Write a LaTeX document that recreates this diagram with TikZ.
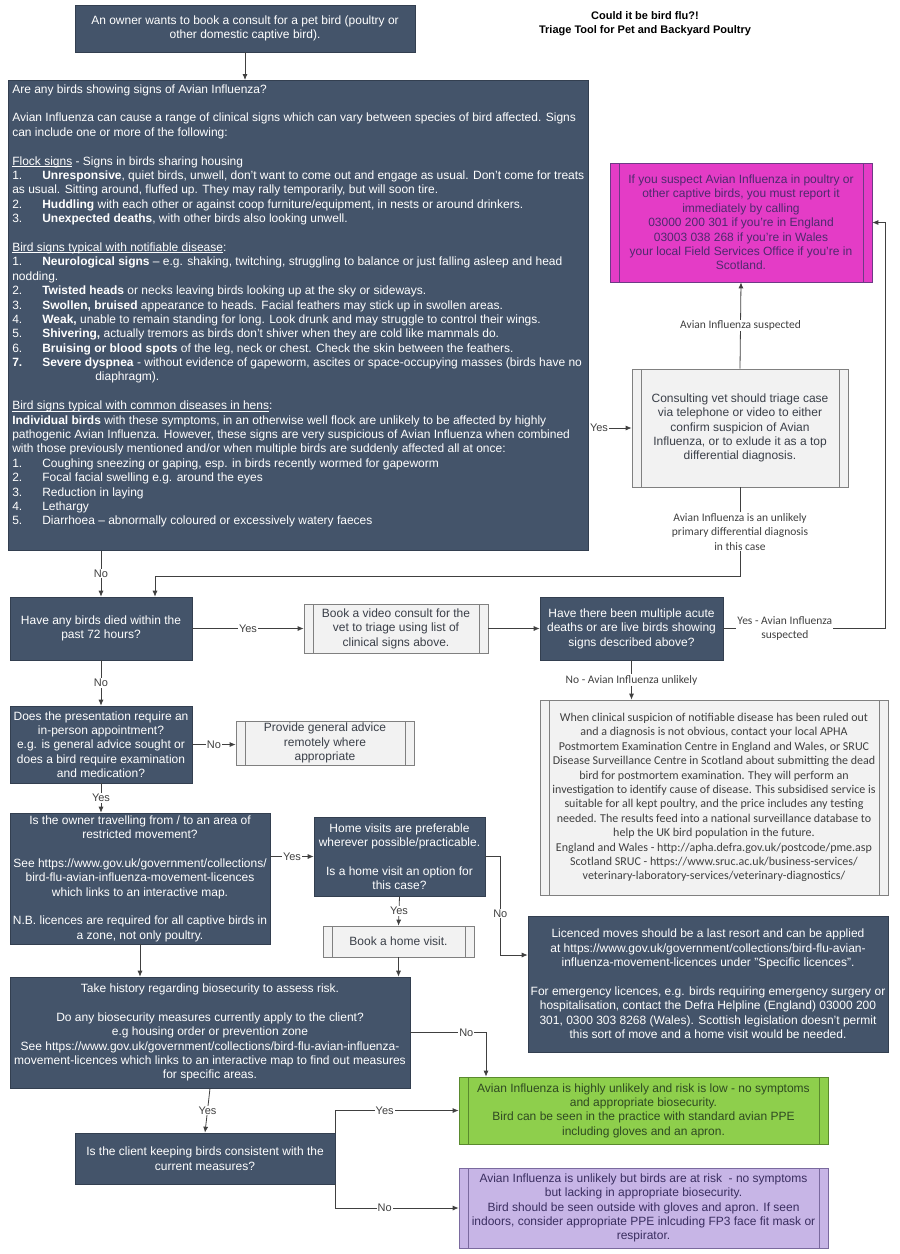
\documentclass[tikz,border=0pt]{standalone}
\usepackage{fontspec}
\setmainfont{Liberation Sans}
\newfontfamily\calib{Carlito}
\usetikzlibrary{arrows.meta}
\definecolor{slate}{HTML}{44546A}
\definecolor{wire}{HTML}{404040}
\definecolor{greytext}{HTML}{3A3F48}
\definecolor{pinkfill}{HTML}{E43CC6}
\definecolor{pinkline}{HTML}{6E3A86}
\definecolor{pinktext}{HTML}{4E2A6E}
\definecolor{greenfill}{HTML}{8ECF4C}
\definecolor{greenline}{HTML}{5A8A2E}
\definecolor{greentext}{HTML}{2F4A22}
\definecolor{lilacfill}{HTML}{C7B5E6}
\definecolor{lilacline}{HTML}{7A6A9E}
\definecolor{lilactext}{HTML}{3A2E60}
\tikzset{sidebars/.style={path picture={
  \draw[#1,line width=0.7pt] ([xshift=9pt]path picture bounding box.north west) -- ([xshift=9pt]path picture bounding box.south west);
  \draw[#1,line width=0.7pt] ([xshift=-9pt]path picture bounding box.north east) -- ([xshift=-9pt]path picture bounding box.south east);}}}
\newcommand{\itm}[2]{\makebox[30pt][l]{#1}#2}
\newcommand{\blank}{\\[14.4pt]}
\newsavebox{\ulbox}
\newcommand{\ulx}[1]{\leavevmode\sbox{\ulbox}{#1}\rlap{\rule[-1.4pt]{\wd\ulbox}{0.6pt}}\usebox{\ulbox}}

\begin{document}
\begin{tikzpicture}[x=1pt,y=-1pt]
  \tikzstyle{txt}=[font=\fontsize{12}{14.4}\selectfont]
  \tikzstyle{darkbox}=[txt,draw=slate!75!black,line width=0.6pt,fill=slate,text=white,inner sep=2pt,align=center]
  \tikzstyle{procbox}=[txt,draw=black!50,line width=0.7pt,fill=black!5,text=greytext,inner sep=2pt,align=center,sidebars=black!50]
  \tikzstyle{lbl}=[fill=white,text=wire,inner sep=1pt,font=\fontsize{11}{13}\selectfont,align=center]
  \tikzstyle{lblc}=[lbl,font=\calib\fontsize{11.5}{14.4}\selectfont]
  \tikzstyle{line}=[draw=wire,line width=0.8pt,-{Latex[length=6pt,width=5pt]}]
  \useasboundingbox (0,0) rectangle (900,1254);
  % title
  \node[font=\bfseries\fontsize{11}{14}\selectfont,align=center] (title) at (645,24) {Could it be bird flu?!\\Triage Tool for Pet and Backyard Poultry};
  % left column
  \node[darkbox,minimum width=340,minimum height=47] (start) at (245,28.5) {An owner wants to book a consult for a pet bird (poultry or\\other domestic captive bird).};
  \node[darkbox,anchor=north west,inner sep=4pt,align=left] (signs) at (8,80) {\parbox[t][462pt][t]{572pt}{\raggedright
    Are any birds showing signs of Avian Influenza?\blank
    Avian Influenza can cause a range of clinical signs which can vary between species of bird affected. Signs\\
    can include one or more of the following:\blank
    \ulx{Flock signs} - Signs in birds sharing housing\\
    \itm{1.}{\textbf{Unresponsive}, quiet birds, unwell, don't want to come out and engage as usual. Don't come for treats}\\
    as usual. Sitting around, fluffed up. They may rally temporarily, but will soon tire.\\
    \itm{2.}{\textbf{Huddling} with each other or against coop furniture/equipment, in nests or around drinkers.}\\
    \itm{3.}{\textbf{Unexpected deaths}, with other birds also looking unwell.}\blank
    \ulx{Bird signs typical with notifiable disease}:\\
    \itm{1.}{\textbf{Neurological signs} – e.g. shaking, twitching, struggling to balance or just falling asleep and head}\\
    nodding.\\
    \itm{2.}{\textbf{Twisted heads} or necks leaving birds looking up at the sky or sideways.}\\
    \itm{3.}{\textbf{Swollen, bruised} appearance to heads. Facial feathers may stick up in swollen areas.}\\
    \itm{4.}{\textbf{Weak,} unable to remain standing for long. Look drunk and may struggle to control their wings.}\\
    \itm{5.}{\textbf{Shivering,} actually tremors as birds don't shiver when they are cold like mammals do.}\\
    \itm{6.}{\textbf{Bruising or blood spots} of the leg, neck or chest. Check the skin between the feathers.}\\
    \itm{\textbf{7.}}{\textbf{Severe dyspnea} - without evidence of gapeworm, ascites or space-occupying masses (birds have no}\\
    \hspace*{83pt}diaphragm).\blank
    \ulx{Bird signs typical with common diseases in hens}:\\
    \textbf{Individual birds} with these symptoms, in an otherwise well flock are unlikely to be affected by highly\\
    pathogenic Avian Influenza. However, these signs are very suspicious of Avian Influenza when combined\\
    with those previously mentioned and/or when multiple birds are suddenly affected all at once:\\
    \itm{1.}{Coughing sneezing or gaping, esp. in birds recently wormed for gapeworm}\\
    \itm{2.}{Focal facial swelling e.g. around the eyes}\\
    \itm{3.}{Reduction in laying}\\
    \itm{4.}{Lethargy}\\
    \itm{5.}{Diarrhoea – abnormally coloured or excessively watery faeces}}};
  \node[darkbox,minimum width=182,minimum height=63] (died) at (101,628.5) {Have any birds died within the\\past 72 hours?};
  \node[darkbox,minimum width=182,minimum height=77] (inperson) at (101,744.5) {Does the presentation require an\\in-person appointment?\\e.g. is general advice sought or\\does a bird require examination\\and medication?};
  \node[darkbox,minimum width=260,minimum height=131] (travel) at (140,878.5) {Is the owner travelling from / to an area of\\restricted movement?\blank See https://www.gov.uk/government/collections/\\bird-flu-avian-influenza-movement-licences\\which links to an interactive map.\blank N.B. licences are required for all captive birds in\\a zone, not only poultry.};
  \node[darkbox,minimum width=400,minimum height=111] (history) at (210,1032.5) {Take history regarding biosecurity to assess risk.\blank Do any biosecurity measures currently apply to the client?\\e.g housing order or prevention zone\\See https://www.gov.uk/government/collections/bird-flu-avian-influenza-\\movement-licences which links to an interactive map to find out measures\\for specific areas.};
  \node[darkbox,minimum width=260,minimum height=51] (keeping) at (205,1158.5) {Is the client keeping birds consistent with the\\current measures?};
  % middle
  \node[procbox,minimum width=184,minimum height=49] (video) at (396,628.5) {Book a video consult for the\\vet to triage using list of\\clinical signs above.};
  \node[procbox,minimum width=178,minimum height=40] (advice) at (325,743) {Provide general advice\\remotely where\\appropriate};
  \node[darkbox,minimum width=171,minimum height=79] (homevisit) at (399.5,856.5) {Home visits are preferable\\wherever possible/practicable.\blank Is a home visit an option for\\this case?};
  \node[procbox,minimum width=151,minimum height=31] (bookhome) at (398.5,941.5) {Book a home visit.};
  % right column
  \node[txt,draw=pinkline,line width=0.7pt,fill=pinkfill,text=pinktext,align=center,sidebars=pinkline,minimum width=262,minimum height=119] (report) at (741,222.5) {If you suspect Avian Influenza in poultry or\\other captive birds, you must report it\\immediately by calling\\03000 200 301 if you're in England\\03003 038 268 if you're in Wales\\your local Field Services Office if you're in\\Scotland.};
  \node[procbox,minimum width=216,minimum height=118] (triage) at (740,428) {Consulting vet should triage case\\via telephone or video to either\\confirm suspicion of Avian\\Influenza, or to exlude it as a top\\differential diagnosis.};
  \node[darkbox,minimum width=183,minimum height=63] (acute) at (631.5,628.5) {Have there been multiple acute\\deaths or are live birds showing\\signs described above?};
  \node[procbox,font=\calib\fontsize{12}{14.4}\selectfont,text=wire,minimum width=348,minimum height=195] (pm) at (714,797.5) {When clinical suspicion of notifiable disease has been ruled out\\and a diagnosis is not obvious, contact your local APHA\\Postmortem Examination Centre in England and Wales, or SRUC\\Disease Surveillance Centre in Scotland about submitting the dead\\bird for postmortem examination. They will perform an\\investigation to identify cause of disease. This subsidised service is\\suitable for all kept poultry, and the price includes any testing\\needed. The results feed into a national surveillance database to\\help the UK bird population in the future.\\England and Wales - http://apha.defra.gov.uk/postcode/pme.asp\\Scotland SRUC - https://www.sruc.ac.uk/business-services/\\veterinary-laboratory-services/veterinary-diagnostics/};
  \node[darkbox,minimum width=360,minimum height=136] (licence) at (708,984) {Licenced moves should be a last resort and can be applied\\at https://www.gov.uk/government/collections/bird-flu-avian-\\influenza-movement-licences under "Specific licences".\blank For emergency licences, e.g. birds requiring emergency surgery or\\hospitalisation, contact the Defra Helpline (England) 03000 200\\301, 0300 303 8268 (Wales). Scottish legislation doesn't permit\\this sort of move and a home visit would be needed.};
  \node[txt,draw=greenline,line width=0.7pt,fill=greenfill,text=greentext,align=center,sidebars=greenline,minimum width=369,minimum height=67] (lowrisk) at (643.5,1110.5) {Avian Influenza is highly unlikely and risk is low - no symptoms\\and appropriate biosecurity.\\Bird can be seen in the practice with standard avian PPE\\including gloves and an apron.};
  \node[txt,draw=lilacline,line width=0.7pt,fill=lilacfill,text=lilactext,align=center,sidebars=lilacline,minimum width=369,minimum height=80] (atrisk) at (643.5,1208) {Avian Influenza is unlikely but birds are at risk \ - no symptoms\\but lacking in appropriate biosecurity.\\Bird should be seen outside with gloves and apron. If seen\\indoors, consider appropriate PPE inlcuding FP3 face fit mask or\\respirator.};
  % connectors
  \draw[line] (start.south) -- (start.south |- signs.north);
  \draw[line] (signs.east |- triage.west) -- node[lbl,anchor=west,pos=0] {Yes} (triage.west);
  \draw[line] (triage.north) -- node[lblc] {Avian Influenza suspected} (report.south);
  \draw[line] (triage.south) -- node[lblc] {Avian Influenza is an unlikely\\primary differential diagnosis\\in this case} ++(0,89) -| ([xshift=54pt]died.north);
  \draw[line] (died.north |- signs.south) -- node[lbl] {No} (died.north);
  \draw[line] (died.east) -- node[lbl] {Yes} (video.west);
  \draw[line] (video.east) -- (acute.west);
  \draw[line] (acute.east) -- node[lblc,pos=0.38] {Yes - Avian Influenza\\suspected} ++(162,0) |- (report.east);
  \draw[line] (acute.south) -- node[lblc] {No - Avian Influenza unlikely} (acute.south |- pm.north);
  \draw[line] (died.south) -- node[lbl] {No} (inperson.north);
  \draw[line] (inperson.east) -- node[lbl] {No} (inperson.east -| advice.west);
  \draw[line] (inperson.south) -- node[lbl] {Yes} (inperson.south |- travel.north);
  \draw[line] (travel.east |- homevisit.west) -- node[lbl] {Yes} (homevisit.west);
  \draw[line] (homevisit.south) -- node[lbl] {Yes} (bookhome.north);
  \draw[line] (homevisit.east) -- ++(15,0) |- node[lbl,pos=0.29] {No} ([yshift=29pt]licence.west);
  \draw[line] (travel.south) -- (travel.south |- history.north);
  \draw[line] (bookhome.south) -- (bookhome.south |- history.north);
  \draw[line] (history.east) -| node[lbl,pos=0.37] {No} ([xshift=-157.5pt]lowrisk.north);
  \draw[line] (history.south) -- node[lbl] {Yes} (keeping.north);
  \draw[line] (keeping.north east) |- node[lbl,pos=0.7] {Yes} (lowrisk.west);
  \draw[line] (keeping.south east) |- node[lbl,pos=0.7] {No} (atrisk.west);
\end{tikzpicture}
\end{document}
